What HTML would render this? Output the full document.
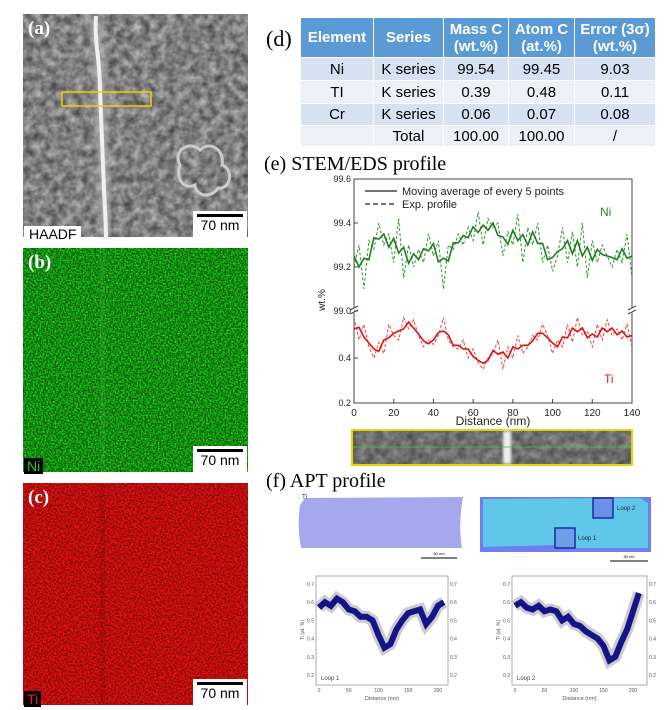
<!DOCTYPE html>
<html><head><meta charset="utf-8"><style>
body{margin:0;width:671px;height:710px;background:#fff;position:relative;overflow:hidden;font-family:"Liberation Sans",sans-serif}
.abs{position:absolute}
.plab{position:absolute;font-family:"Liberation Serif",serif;font-size:19px;color:#000}
table{border-collapse:collapse;font-family:"Liberation Sans",sans-serif;font-size:15px;text-align:center}
td,th{border:1px solid #fff;padding:0}
th{background:#5b9bd5;color:#fff;font-weight:bold;line-height:17px}
</style></head><body>
<svg class="abs" style="left:0;top:0" width="671" height="710">
<defs>
<filter id="ng" x="0" y="0" width="100%" height="100%" color-interpolation-filters="sRGB"><feTurbulence type="fractalNoise" baseFrequency="0.6" numOctaves="2" seed="3"/><feColorMatrix type="matrix" values="0 0 0 0 0.07  1.3 0 0 0 -0.1  0 0 0 0 0.06  0 0 0 0 1"/></filter>
<filter id="nr" x="0" y="0" width="100%" height="100%" color-interpolation-filters="sRGB"><feTurbulence type="fractalNoise" baseFrequency="0.6" numOctaves="2" seed="7"/><feColorMatrix type="matrix" values="1.3 0 0 0 0.07  0 0 0 0 0.05  0 0 0 0 0.05  0 0 0 0 1"/></filter>
<filter id="ngr" x="0" y="0" width="100%" height="100%" color-interpolation-filters="sRGB"><feTurbulence type="fractalNoise" baseFrequency="0.12" numOctaves="3" seed="2"/><feColorMatrix type="matrix" values="0.6 0 0 0 0.2  0.6 0 0 0 0.2  0.6 0 0 0 0.2  0 0 0 0 1"/></filter>
<filter id="bl" x="-50%" y="-10%" width="200%" height="120%"><feGaussianBlur stdDeviation="1.2"/></filter>
<filter id="bl3" x="-50%" y="-10%" width="200%" height="120%"><feGaussianBlur stdDeviation="3"/></filter>
</defs>
<g>
<rect x="23" y="14" width="225" height="223" filter="url(#ngr)"/>
<path d="M96 16 C94 40 100 60 100 90 C101 120 103 160 104 190 C105 210 106 225 106 237" stroke="#bbb" stroke-width="12" fill="none" filter="url(#bl3)" opacity="0.6"/>
<path d="M96 16 C94 40 100 60 100 90 C101 120 103 160 104 190 C105 210 106 225 106 237" stroke="#f0f0f0" stroke-width="4" fill="none"/>
<path d="M180 165 C172 150 190 140 200 150 C210 140 225 150 222 165 C235 170 230 190 218 188 C210 200 195 195 195 185 C185 190 175 180 180 165 Z" stroke="#ccc" stroke-width="3" fill="none"/>
<rect x="62" y="92" width="89" height="14" fill="none" stroke="#e8d400" stroke-width="1.5"/>
</g>
<g>
<rect x="23" y="248" width="225" height="224" filter="url(#ng)"/>
<rect x="100" y="248" width="5" height="224" fill="#3fb03f" opacity="0.25"/>
</g>
<g>
<rect x="23" y="483" width="225" height="222" filter="url(#nr)"/>
<rect x="100" y="483" width="5" height="222" fill="#000" opacity="0.08"/>
</g>
</svg>
<div class="plab" style="left:28px;top:18px;color:#fff;font-weight:bold">(a)</div>
<div class="plab" style="left:28px;top:252px;color:#fff;font-weight:bold">(b)</div>
<div class="plab" style="left:28px;top:487px;color:#fff;font-weight:bold">(c)</div>
<div class="abs" style="left:24px;top:226px;background:#fff;padding:0 5px;font-size:14px;line-height:16px">HAADF</div>
<div class="abs" style="left:24px;top:458px;background:#000;color:#2c2;padding:0 3px;font-size:14px;line-height:16px">Ni</div>
<div class="abs" style="left:24px;top:691px;background:#000;color:#e22;padding:0 3px;font-size:14px;line-height:16px">Ti</div>
<div class="abs" style="left:193px;top:211px;width:54px;height:26px;background:#fff;font-size:14px;text-align:center"><div style="border-top:3px solid #000;margin:3px 4px 0"></div>70 nm</div>
<div class="abs" style="left:193px;top:446px;width:54px;height:26px;background:#fff;font-size:14px;text-align:center"><div style="border-top:3px solid #000;margin:3px 4px 0"></div>70 nm</div>
<div class="abs" style="left:193px;top:679px;width:54px;height:26px;background:#fff;font-size:14px;text-align:center"><div style="border-top:3px solid #000;margin:3px 4px 0"></div>70 nm</div>

<div class="plab" style="left:266px;top:26px;font-size:22px">(d)</div>
<table class="abs" style="left:300px;top:17px">
<tr style="height:40px"><th style="width:72px">Element</th><th style="width:69px">Series</th><th style="width:64px">Mass C<br>(wt.%)</th><th style="width:65px">Atom C<br>(at.%)</th><th style="width:80px">Error (3σ)<br>(wt.%)</th></tr>
<tr style="height:23px;background:#d6e1f2"><td>Ni</td><td>K series</td><td>99.54</td><td>99.45</td><td>9.03</td></tr>
<tr style="height:23px;background:#ecf1f9"><td>TI</td><td>K series</td><td>0.39</td><td>0.48</td><td>0.11</td></tr>
<tr style="height:22px;background:#d6e1f2"><td>Cr</td><td>K series</td><td>0.06</td><td>0.07</td><td>0.08</td></tr>
<tr style="height:21px;background:#ecf1f9"><td></td><td>Total</td><td>100.00</td><td>100.00</td><td>/</td></tr>
</table>

<div class="plab" style="left:264px;top:153px;font-size:20px">(e) STEM/EDS profile</div>
<div class="plab" style="left:266px;top:470px;font-size:20px">(f) APT profile</div>

<svg id="chartE" class="abs" style="left:0;top:0" width="671" height="710"></svg>

<script>
const distances=[0,2.5,5,7.5,10,12.5,15,17.5,20,22.5,25,27.5,30,32.5,35,37.5,40,42.5,45,47.5,50,52.5,55,57.5,60,62.5,65,67.5,70,72.5,75,77.5,80,82.5,85,87.5,90,92.5,95,97.5,100,102.5,105,107.5,110,112.5,115,117.5,120,122.5,125,127.5,130,132.5,135,137.5,140];
const niExp=[99.20,99.30,99.10,99.32,99.28,99.40,99.30,99.35,99.22,99.42,99.15,99.30,99.20,99.28,99.22,99.35,99.25,99.32,99.10,99.30,99.28,99.35,99.30,99.38,99.32,99.45,99.30,99.42,99.38,99.40,99.25,99.36,99.30,99.44,99.22,99.38,99.30,99.40,99.22,99.30,99.18,99.25,99.38,99.22,99.36,99.20,99.40,99.15,99.32,99.22,99.30,99.25,99.20,99.28,99.22,99.35,99.15];
const tiExp=[0.58,0.48,0.55,0.45,0.40,0.47,0.42,0.55,0.50,0.48,0.58,0.53,0.57,0.50,0.45,0.48,0.46,0.50,0.58,0.48,0.45,0.44,0.48,0.40,0.44,0.38,0.35,0.40,0.42,0.48,0.35,0.45,0.40,0.50,0.42,0.45,0.50,0.48,0.55,0.50,0.42,0.48,0.45,0.55,0.47,0.58,0.50,0.52,0.45,0.55,0.48,0.57,0.50,0.53,0.48,0.55,0.45];
const xTicks=[0,20,40,60,80,100,120,140];
const upperTicks=[99.0,99.2,99.4,99.6];
const lowerTicks=[0.2,0.4];
const loopDist=[0,10,20,30,40,50,60,70,80,90,100,110,120,130,140,150,160,170,180,190,200,210];
const loop1Ti=[0.57,0.60,0.58,0.62,0.60,0.56,0.55,0.52,0.52,0.50,0.42,0.35,0.37,0.45,0.50,0.54,0.55,0.56,0.48,0.52,0.58,0.60];
const loop2Ti=[0.58,0.60,0.57,0.56,0.58,0.55,0.56,0.55,0.50,0.52,0.48,0.47,0.44,0.42,0.40,0.36,0.28,0.30,0.38,0.45,0.55,0.65];
const aptTicks=[0.2,0.3,0.4,0.5,0.6,0.7];
const aptXTicks=[0,50,100,150,200];

const NS='http://www.w3.org/2000/svg';
const svg=document.getElementById('chartE');
function mk(tag,attrs,parent){const e=document.createElementNS(NS,tag);for(const k in attrs)e.setAttribute(k,attrs[k]);(parent||svg).appendChild(e);return e;}
const X0=354,X1=632;
const xS=d=>X0+d/140*(X1-X0);
const yU=v=>311-(v-99)*220;
const yL=v=>403-(v-0.2)*225;
function mavg(a){return a.map((_,i)=>{let s=0,n=0;for(let j=i-1;j<=i+1;j++)if(j>=0&&j<a.length){s+=a[j];n++;}return s/n;});}
function pts(xs,ys,fx,fy){return xs.map((x,i)=>fx(x).toFixed(1)+','+fy(ys[i]).toFixed(1)).join(' ');}

const frame=mk('rect',{x:X0,y:179,width:X1-X0,height:224,fill:'none',stroke:'#444','stroke-width':1});


const niD=mk('polyline',{points:pts(distances,niExp,xS,yU),fill:'none',stroke:'#2a9a2a','stroke-width':1,'stroke-dasharray':'3,2'});


const niS=mk('polyline',{points:pts(distances,mavg(niExp),xS,yU),fill:'none',stroke:'#1f7f1f','stroke-width':1.6});


const tiD=mk('polyline',{points:pts(distances,tiExp,xS,yL),fill:'none',stroke:'#f04040','stroke-width':1,'stroke-dasharray':'3,2'});


const tiS=mk('polyline',{points:pts(distances,mavg(tiExp),xS,yL),fill:'none',stroke:'#e01010','stroke-width':1.6});


[X0,X1].forEach(x=>{const b=mk('rect',{x:x-3,y:308,width:6,height:5,fill:'#fff'});
mk('line',{x1:x-4,y1:310,x2:x+4,y2:306,stroke:'#444'});mk('line',{x1:x-4,y1:314,x2:x+4,y2:310,stroke:'#444'});});
xTicks.forEach(t=>{mk('line',{x1:xS(t),y1:403,x2:xS(t),y2:399,stroke:'#444'});
const tx=mk('text',{x:xS(t),y:416,'font-size':10,'text-anchor':'middle',fill:'#222'});tx.textContent=t;
});
upperTicks.forEach(t=>{mk('line',{x1:X0,y1:yU(t),x2:X0+4,y2:yU(t),stroke:'#444'});
const tx=mk('text',{x:X0-3,y:yU(t)+3,'font-size':9,'text-anchor':'end',fill:'#222'});tx.textContent=t.toFixed(1);
});
lowerTicks.forEach(t=>{mk('line',{x1:X0,y1:yL(t),x2:X0+4,y2:yL(t),stroke:'#444'});
const tx=mk('text',{x:X0-3,y:yL(t)+3,'font-size':9,'text-anchor':'end',fill:'#222'});tx.textContent=t.toFixed(1);
});
let t;
t=mk('text',{x:493,y:425,'font-size':12,'text-anchor':'middle',fill:'#222'});t.textContent='Distance (nm)';

t=mk('text',{x:0,y:0,'font-size':10,'text-anchor':'middle',fill:'#222',transform:'translate(325,300) rotate(-90)'});t.textContent='wt.%';

mk('line',{x1:365,y1:191,x2:397,y2:191,stroke:'#222','stroke-width':1.3});
t=mk('text',{x:402,y:195,'font-size':11,fill:'#222'});t.textContent='Moving average of every 5 points';

mk('line',{x1:365,y1:204,x2:397,y2:204,stroke:'#222','stroke-width':1.3,'stroke-dasharray':'5,3'});
t=mk('text',{x:402,y:208,'font-size':11,fill:'#222'});t.textContent='Exp. profile';

t=mk('text',{x:600,y:216,'font-size':12,fill:'#2a8a2a'});t.textContent='Ni';

t=mk('text',{x:604,y:383,'font-size':12,fill:'#e02020'});t.textContent='Ti';


const strip=mk('g',{});


mk('rect',{x:352,y:430,width:280,height:35,fill:'#555',stroke:'#e8d400','stroke-width':2},strip);
mk('rect',{x:353,y:431,width:278,height:33,fill:'#777',filter:'url(#ngr)',opacity:0.6},strip);
mk('rect',{x:503,y:431,width:8,height:33,fill:'#eee',filter:'url(#bl)'},strip);
mk('line',{x1:353,y1:447,x2:631,y2:447,stroke:'#3c3','stroke-width':0.8},strip);

const r1=mk('g',{});


mk('path',{d:'M300 505 Q297 525 301 548 L462 548 Q458 525 463 497 L305 498 Z',fill:'#9799ea',opacity:0.85},r1);
t=mk('text',{x:298,y:499,'font-size':7,fill:'#3344cc'},r1);t.textContent='. Ti';
mk('line',{x1:421,y1:558,x2:457,y2:558,stroke:'#000','stroke-width':1},r1);
t=mk('text',{x:439,y:555,'font-size':4,'text-anchor':'middle'},r1);t.textContent='50 nm';
const r2=mk('g',{});


mk('rect',{x:480,y:497,width:171,height:55,fill:'#6f7ff0'},r2);
mk('path',{d:'M483 499 L640 498 L648 503 L648 548 L560 548 L555 545 L483 547 Z',fill:'#5fc8e8'},r2);
const b2=mk('rect',{x:593,y:498,width:20,height:20,fill:'#6c8fe8',stroke:'#1a2aa0','stroke-width':1.5},r2);

const b1=mk('rect',{x:555,y:528,width:20,height:20,fill:'#6c9fe8',stroke:'#1a2aa0','stroke-width':1.5},r2);

t=mk('text',{x:617,y:510,'font-size':6,fill:'#223'},r2);t.textContent='Loop 2';
t=mk('text',{x:578,y:540,'font-size':6,fill:'#223'},r2);t.textContent='Loop 1';
mk('line',{x1:610,y1:561,x2:648,y2:561,stroke:'#000','stroke-width':1},r2);
t=mk('text',{x:629,y:558,'font-size':4,'text-anchor':'middle'},r2);t.textContent='50 nm';

function apt(fx0,fx1,x0,x200,data,label,name){
  const g=mk('g',{});
  
  
  const xs=d=>x0+d/200*(x200-x0);
  const ys=v=>675-(v-0.2)/0.5*91;
  mk('rect',{x:fx0,y:576,width:fx1-fx0,height:109,fill:'none',stroke:'#888','stroke-width':0.7},g);
  mk('polyline',{points:pts(loopDist,data,xs,ys),fill:'none',stroke:'#999','stroke-width':12,opacity:0.5},g);
  mk('polyline',{points:pts(loopDist,data,xs,ys),fill:'none',stroke:'#14148a','stroke-width':6},g);
  aptTicks.forEach(v=>{
    let a=mk('text',{x:fx0-2,y:ys(v)+2,'font-size':5,'text-anchor':'end',fill:'#555'},g);a.textContent=v.toFixed(1);
    a=mk('text',{x:fx1+2,y:ys(v)+2,'font-size':5,fill:'#555'},g);a.textContent=v.toFixed(1);
  });
  aptXTicks.forEach(d=>{let a=mk('text',{x:xs(d),y:692,'font-size':5,'text-anchor':'middle',fill:'#555'},g);a.textContent=d;});
  let a=mk('text',{x:(fx0+fx1)/2,y:700,'font-size':5.5,'text-anchor':'middle',fill:'#555'},g);a.textContent='Distance (nm)';
  a=mk('text',{x:0,y:0,'font-size':5,'text-anchor':'middle',fill:'#555',transform:`translate(${fx0-12},630) rotate(-90)`},g);a.textContent='Ti (at. %)';
  a=mk('text',{x:fx0+5,y:680,'font-size':6,fill:'#444'},g);a.textContent=label;
}
apt(316,448,319,438,loop1Ti,'Loop 1','apt-loop-1-chart');
apt(512,647,515,633,loop2Ti,'Loop 2','apt-loop-2-chart');
</script>
</body></html>
